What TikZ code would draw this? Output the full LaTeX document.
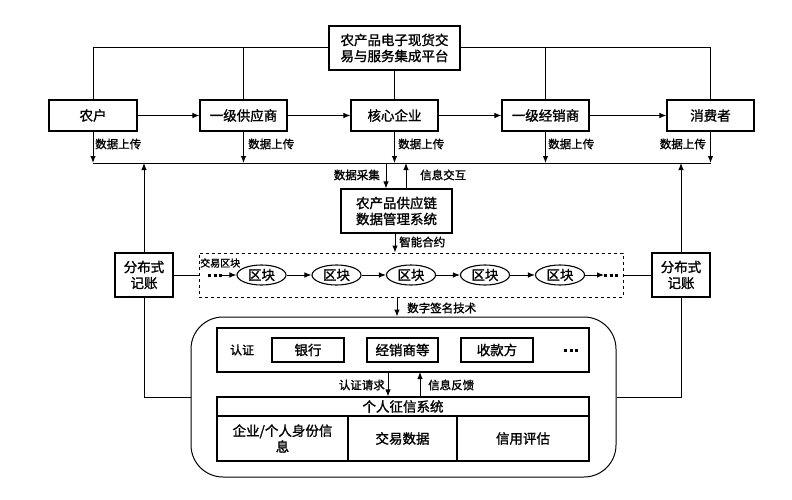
\documentclass[tikz,border=0pt]{standalone}
\usepackage{fontspec}
\setmainfont{Noto Sans CJK SC}[FakeBold=1.4]
\usetikzlibrary{arrows.meta,shapes.geometric}
\tikzset{
  box/.style={draw, line width=1.1pt, inner sep=0pt, align=center, font=\fontsize{13.5}{16}\selectfont},
  oval/.style={draw, ellipse, line width=1.1pt, inner sep=0pt, minimum width=49pt, minimum height=20pt, font=\fontsize{13.5}{16}\selectfont},
  lbl/.style={inner sep=0pt, font=\fontsize{11.5}{13}\selectfont},
  ln/.style={line width=1pt},
  arr/.style={line width=1pt, -{Latex[length=7pt,width=5.5pt]}},
  dotsline/.style={line width=3pt, dash pattern=on 3pt off 2.5pt},
}
\begin{document}
\begin{tikzpicture}[x=1pt,y=-1pt]
\useasboundingbox (0,0) rectangle (792,500);
% top row
\node[box, minimum width=131pt, minimum height=44pt] (plat) at (394.5,48) {农产品电子现货交\\易与服务集成平台};
\node[box, minimum width=88pt, minimum height=31pt] (farm) at (93,115.5) {农户};
\node[box, minimum width=87pt, minimum height=31pt] (sup) at (243.5,115.5) {一级供应商};
\node[box, minimum width=87pt, minimum height=31pt] (core) at (394.5,115.5) {核心企业};
\node[box, minimum width=87pt, minimum height=31pt] (dist) at (545.5,115.5) {一级经销商};
\node[box, minimum width=87pt, minimum height=31pt] (cons) at (710.5,115.5) {消费者};
% platform links
\draw[ln] (farm.north) -- (farm.north |- plat.west) -- (plat.west);
\draw[ln] (sup.north) -- (sup.north |- plat.west);
\draw[ln] (plat.south) -- (core.north);
\draw[ln] (cons.north) -- (cons.north |- plat.east) -- (plat.east);
\draw[ln] (dist.north) -- (dist.north |- plat.east);
% flow arrows
\draw[arr] (farm.east) -- (sup.west);
\draw[arr] (sup.east) -- (core.west);
\draw[arr] (core.east) -- (dist.west);
\draw[arr] (dist.east) -- (cons.west);
% bus
\coordinate (bus) at (93,163);
\coordinate (busR) at (710.5,163);
\draw[ln] (bus) -- (busR);
\draw[arr] (farm.south) -- (farm.south |- bus);
\draw[arr] (sup.south) -- (sup.south |- bus);
\draw[arr] (core.south) -- (core.south |- bus);
\draw[arr] (dist.south) -- (dist.south |- bus);
\draw[arr] (cons.south) -- (cons.south |- bus);
\node[lbl, anchor=west] (l1) at (95,144) {数据上传};
\node[lbl, anchor=west] (l2) at (248,144) {数据上传};
\node[lbl, anchor=west] (l3) at (398,144) {数据上传};
\node[lbl, anchor=west] (l4) at (548,144) {数据上传};
\node[lbl, anchor=east] (l5) at (706,144) {数据上传};
% data management system
\node[box, minimum width=111pt, minimum height=44pt] (dms) at (396.5,211) {农产品供应链\\数据管理系统};
\coordinate (c1) at (386,163);
\coordinate (c2) at (406,163);
\draw[arr] (c1) -- (c1 |- dms.north);
\draw[arr] (c2 |- dms.north) -- (c2);
\node[lbl, anchor=east] (l6) at (380,175) {数据采集};
\node[lbl, anchor=west] (l7) at (420,175) {信息交互};
% chain
\node[draw, dashed, line width=1pt, minimum width=424pt, minimum height=44pt, inner sep=0pt] (chain) at (411,275) {};
\node[inner sep=0pt, anchor=west, font=\fontsize{10}{12}\selectfont] (tb) at (200,263) {交易区块};
\coordinate (c3) at (395,233);
\draw[arr] (c3) -- (c3 |- chain.north);
\node[lbl, anchor=west] (l8) at (399,242) {智能合约};
\node[oval] (e1) at (261.5,275) {区块};
\node[oval] (e2) at (336.5,275) {区块};
\node[oval] (e3) at (411,275) {区块};
\node[oval] (e4) at (485,275) {区块};
\node[oval] (e5) at (560,275) {区块};
\coordinate (d1) at (208,275);
\coordinate (d2) at (222,275);
\draw[dotsline] (d1) -- (d2);
\draw[arr] (d2) -- (e1.west);
\draw[arr] (e1) -- (e2);
\draw[arr] (e2) -- (e3);
\draw[arr] (e3) -- (e4);
\draw[arr] (e4) -- (e5);
\coordinate (d3) at (604,275);
\coordinate (d4) at (618,275);
\draw[arr] (e5.east) -- (d3);
\draw[dotsline] (d3) -- (d4);
% ledgers
\node[box, minimum width=58pt, minimum height=44pt] (ledL) at (144,275) {分布式\\记账};
\node[box, minimum width=58pt, minimum height=44pt] (ledR) at (681,275) {分布式\\记账};
\draw[ln] (ledL.east) -- (chain.west);
\draw[ln] (chain.east) -- (ledR.west);
\draw[arr] (ledL.north) -- (ledL.north |- bus);
\draw[arr] (ledR.north) -- (ledR.north |- bus);
% rounded container
\node[draw, line width=1pt, rounded corners=32pt, minimum width=425pt, minimum height=160pt, inner sep=0pt] (round) at (403.5,397) {};
\draw[ln] (ledL.south) -- (ledL.south |- round.west) -- (round.west);
\draw[ln] (ledR.south) -- (ledR.south |- round.east) -- (round.east);
\coordinate (c4) at (397,297);
\draw[arr] (c4) -- (c4 |- round.north);
\node[lbl, anchor=west] (l9) at (407,308) {数字签名技术};
% auth block
\node[box, minimum width=372pt, minimum height=44pt] (auth) at (403,350) {};
\node[lbl, font=\fontsize{12}{14}\selectfont] (rz) at (242,350) {认证};
\node[box, minimum width=72pt, minimum height=24pt] (bank) at (308,350) {银行};
\node[box, minimum width=71pt, minimum height=24pt] (dlr) at (402.5,350) {经销商等};
\node[box, minimum width=72pt, minimum height=24pt] (pay) at (497,350) {收款方};
\coordinate (m1) at (564,350);
\coordinate (m2) at (578,350);
\draw[dotsline] (m1) -- (m2);
% credit table
\node[box, minimum width=372pt, minimum height=19pt] (hdr) at (403,406.5) {个人征信系统};
\node[box, minimum width=131pt, minimum height=45pt] (t1) at (282.5,438.5) {企业/个人身份信\\息};
\node[box, minimum width=109pt, minimum height=45pt] (t2) at (402.5,438.5) {交易数据};
\node[box, minimum width=132pt, minimum height=45pt] (t3) at (523,438.5) {信用评估};
\coordinate (c5) at (388,372);
\coordinate (c6) at (420,372);
\draw[arr] (c5) -- (c5 |- hdr.north);
\draw[arr] (c6 |- hdr.north) -- (c6);
\node[lbl, anchor=east] (l10) at (385,385) {认证请求};
\node[lbl, anchor=west] (l11) at (428,385) {信息反馈};
\end{tikzpicture}
\end{document}
